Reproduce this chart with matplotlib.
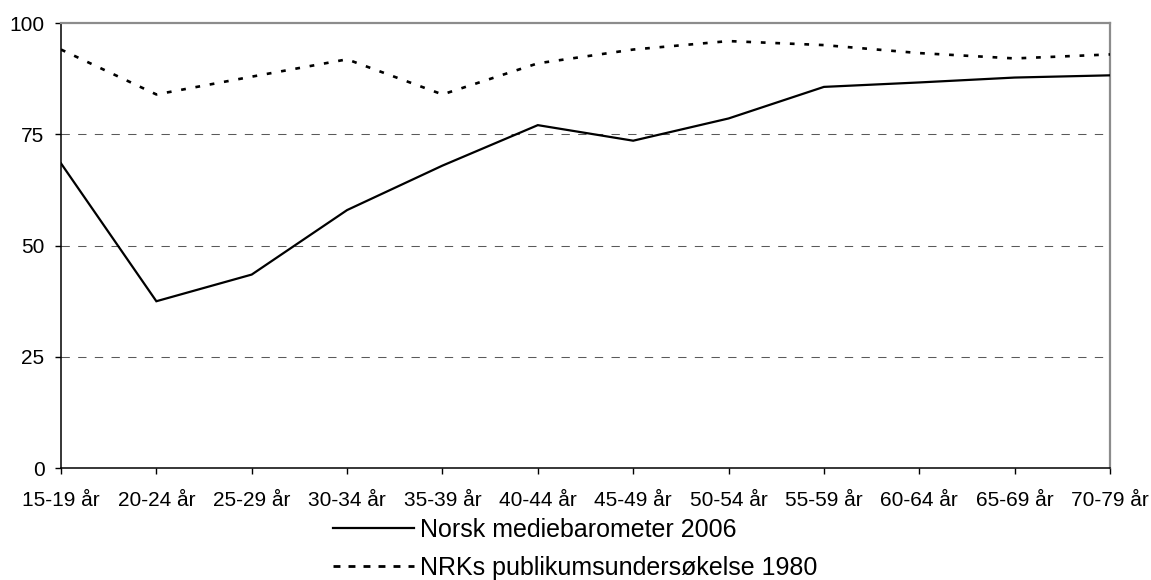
import matplotlib
matplotlib.use("Agg")
import matplotlib.pyplot as plt
from matplotlib.lines import Line2D

categories = ["15-19 år", "20-24 år", "25-29 år", "30-34 år", "35-39 år", "40-44 år",
              "45-49 år", "50-54 år", "55-59 år", "60-64 år", "65-69 år", "70-79 år"]
mediebarometer_2006 = [68.5, 37.5, 43.5, 58.0, 68.0, 77.1, 73.6, 78.6, 85.7, 86.7, 87.8, 88.3]
nrk_1980 = [94.1, 84.0, 88.0, 91.9, 84.0, 91.0, 94.1, 96.0, 95.1, 93.3, 92.1, 93.0]
label_2006 = "Norsk mediebarometer 2006"
label_1980 = "NRKs publikumsundersøkelse 1980"
yticks = [0, 25, 50, 75, 100]

plt.rcParams['font.family'] = ['Liberation Sans', 'DejaVu Sans']

fig = plt.figure(figsize=(11.51, 5.80), dpi=100)
ax = fig.add_axes([61/1151, 1-468/580, (1110-61)/1151, (468-23.3)/580])

x = list(range(len(categories)))
for yv in [25, 50, 75]:
    ax.axhline(yv, color="#5a5a5a", lw=0.75, linestyle=(0, (8, 8)), zorder=1)

ax.plot(x, mediebarometer_2006, color="black", lw=1.6, solid_joinstyle="miter", zorder=3)
ax.plot(x, nrk_1980, color="black", lw=1.9, linestyle=(0, (1.8, 3.7)),
        dash_capstyle="butt", zorder=3)

ax.set_xlim(0, len(categories) - 1)
ax.set_ylim(0, 100)
ax.set_yticks(yticks)
ax.set_yticklabels([str(v) for v in yticks])
ax.set_xticks(x)
ax.set_xticklabels(categories)
ax.tick_params(axis="both", direction="out", length=4.3, width=1, labelsize=15, colors="black")
ax.tick_params(axis="x", pad=12)
ax.tick_params(axis="y", pad=7.5)

ax.spines["left"].set_color("black")
ax.spines["bottom"].set_color("black")
ax.spines["left"].set_linewidth(1.1)
ax.spines["bottom"].set_linewidth(1.1)
ax.spines["top"].set_color("#8c8c8c")
ax.spines["right"].set_color("#8c8c8c")
ax.spines["top"].set_linewidth(1.6)
ax.spines["right"].set_linewidth(1.6)

h1 = Line2D([], [], color="black", lw=1.6)
h2 = Line2D([], [], color="black", lw=2.0, linestyle=(0, (2.5, 2.9)), dash_capstyle="butt")
leg = fig.legend(handles=[h1, h2], labels=[label_2006, label_1980], loc="upper left",
                 bbox_to_anchor=(333/1151, 1-518/580),
                 frameon=False, fontsize=18, handlelength=3.25, handletextpad=0.25,
                 labelspacing=0.55, borderpad=0, borderaxespad=0)

fig.savefig("out.png", dpi=100)
